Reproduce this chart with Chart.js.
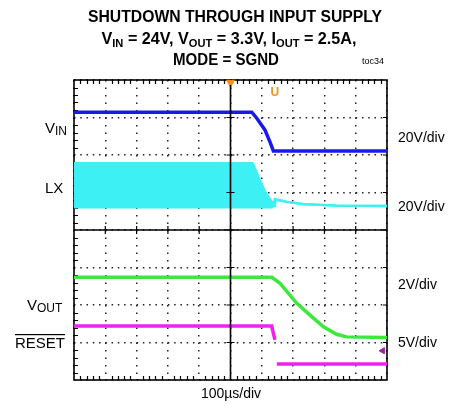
<!DOCTYPE html>
<html>
<head>
<meta charset="utf-8">
<script src="https://cdn.jsdelivr.net/npm/chart.js@4.4.0/dist/chart.umd.min.js"></script>
<style>
  html, body { margin: 0; padding: 0; background: #fff; }
  #wrap { width: 449px; height: 409px; }
</style>
</head>
<body>
<div id="wrap"><canvas id="scope" width="449" height="409"></canvas></div>
<script>
// scope screen: 10 divisions across (100us/div), 8 divisions high
const vinX = [0, 5.68, 5.84, 6.10, 6.26, 6.37, 10];
const vinY = [7.14, 7.14, 6.98, 6.67, 6.35, 6.11, 6.11];

// LX is switching fast, so it shows as a filled band until shutdown
const lxX = [0, 5.71, 5.89, 6.10, 6.32, 6.39, 6.42, 6.80, 7.33, 7.86, 8.39, 10];
const lxTopY = [5.78, 5.78, 5.42, 5.02, 4.75, 4.71, 4.82, 4.75, 4.69, 4.67, 4.65, 4.64];
const lxBotY = [4.61, 4.61, 4.61, 4.61, 4.61, 4.65, 4.82, 4.75, 4.69, 4.67, 4.65, 4.64];

const voutX = [0, 6.32, 6.58, 7.11, 7.54, 7.97, 8.39, 8.71, 10];
const voutY = [2.74, 2.74, 2.58, 2.05, 1.73, 1.42, 1.22, 1.15, 1.13];

const resetX = [0, 6.32, 6.33, 6.42, 6.45, 6.48, 10];
const resetY = [1.44, 1.44, 1.38, 1.07, null, 0.43, 0.43];

const trigX = [5];
const trigY = [7.93];
const refMarkX = [9.86];
const refMarkY = [0.78];
const uMarkX = 6.42, uMarkY = 7.66;

const leftLabels = [
  { main: 'V', sub: 'IN', y: 133, x: 45 },
  { main: 'LX', sub: '', y: 193, x: 45 },
  { main: 'V', sub: 'OUT', y: 310, x: 27 },
  { main: 'RESET', sub: '', y: 348, x: 15, bar: true }
];
const rightLabels = [
  { text: '20V/div', y: 142 },
  { text: '20V/div', y: 211 },
  { text: '2V/div', y: 289 },
  { text: '5V/div', y: 347 }
];

function pts(xs, ys) {
  return xs.map((x, i) => ({ x: x, y: ys[i] }));
}

const FONT = '"Liberation Sans", Arial, sans-serif';

function runsWidth(ctx, runs) {
  let w = 0;
  runs.forEach(r => { ctx.font = r.font; w += ctx.measureText(r.t).width; });
  return w;
}

function drawRuns(ctx, runs, x, y, align, fitW) {
  const w = runsWidth(ctx, runs);
  ctx.save();
  ctx.translate(x, y);
  if (fitW) ctx.scale(fitW / w, 1);
  let cx = align === 'center' ? -w / 2 : 0;
  ctx.textAlign = 'left';
  runs.forEach(r => {
    ctx.font = r.font;
    ctx.fillText(r.t, cx, r.dy || 0);
    cx += ctx.measureText(r.t).width;
  });
  ctx.restore();
  return fitW || w;
}

const scopeFrame = {
  id: 'scopeFrame',
  beforeDatasetsDraw(chart) {
    const { ctx, chartArea: a, scales } = chart;
    const xs = scales.x, ys = scales.y;
    ctx.save();
    ctx.strokeStyle = '#000';
    ctx.lineWidth = 1.2;
    ctx.beginPath();
    for (let i = 1; i < 50; i++) {
      if (i % 5 === 0) continue;
      const px = Math.round(xs.getPixelForValue(i / 5)) + 0.5;
      ctx.moveTo(px, a.top); ctx.lineTo(px, a.top + 4);
      ctx.moveTo(px, a.bottom); ctx.lineTo(px, a.bottom - 4);
    }
    for (let i = 1; i < 40; i++) {
      if (i % 5 === 0) continue;
      const py = Math.round(ys.getPixelForValue(i / 5)) + 0.5;
      ctx.moveTo(a.left, py); ctx.lineTo(a.left + 4, py);
    }
    for (let i = 1; i < 8; i++) {
      const py = ys.getPixelForValue(i);
      ctx.moveTo(a.right, py); ctx.lineTo(a.right - 4, py);
    }
    ctx.stroke();
    ctx.lineWidth = 1.6;
    ctx.strokeRect(a.left, a.top, a.right - a.left, a.bottom - a.top);
    ctx.restore();
  },
  afterDatasetsDraw(chart) {
    const { ctx, chartArea: a, scales } = chart;
    const xs = scales.x, ys = scales.y;
    ctx.save();
    ctx.strokeStyle = '#000';
    ctx.lineWidth = 1.6;
    const cx = xs.getPixelForValue(5), cy = ys.getPixelForValue(4);
    ctx.beginPath();
    ctx.moveTo(cx, a.top + 5); ctx.lineTo(cx, a.bottom);
    ctx.moveTo(a.left, cy); ctx.lineTo(a.right, cy);
    ctx.stroke();
    ctx.lineWidth = 1.2;
    ctx.beginPath();
    for (let i = 1; i < 10; i++) {
      const px = xs.getPixelForValue(i);
      ctx.moveTo(px, cy - 4); ctx.lineTo(px, cy + 4);
    }
    for (let i = 1; i < 8; i++) {
      const py = ys.getPixelForValue(i);
      ctx.moveTo(cx - 4, py); ctx.lineTo(cx + 4, py);
    }
    ctx.stroke();

    // trigger level marker
    ctx.fillStyle = '#f39020';
    ctx.font = 'bold 12px ' + FONT;
    ctx.textAlign = 'center';
    ctx.textBaseline = 'middle';
    ctx.fillText('U', xs.getPixelForValue(uMarkX), ys.getPixelForValue(uMarkY));
    ctx.restore();
  },
  afterDraw(chart) {
    const ctx = chart.ctx;
    ctx.save();
    ctx.fillStyle = '#000';
    ctx.textBaseline = 'alphabetic';
    const B = 'bold 16px ' + FONT, S = 'bold 11px ' + FONT;
    drawRuns(ctx, [{ t: 'SHUTDOWN THROUGH INPUT SUPPLY', font: B }], 235, 22, 'center', 294);
    drawRuns(ctx, [
      { t: 'V', font: B }, { t: 'IN', font: S, dy: 3 },
      { t: ' = 24V, V', font: B }, { t: 'OUT', font: S, dy: 3 },
      { t: ' = 3.3V, I', font: B }, { t: 'OUT', font: S, dy: 3 },
      { t: ' = 2.5A,', font: B }
    ], 229, 44, 'center', 255);
    drawRuns(ctx, [{ t: 'MODE = SGND', font: B }], 226, 65, 'center', 106);
    drawRuns(ctx, [{ t: 'toc34', font: '9px ' + FONT }], 362, 64, 'left');

    leftLabels.forEach(l => {
      const runs = [{ t: l.main, font: '15px ' + FONT }];
      if (l.sub) runs.push({ t: l.sub, font: '12px ' + FONT, dy: 2 });
      const w = drawRuns(ctx, runs, l.x, l.y, 'left');
      if (l.bar) {
        ctx.fillRect(l.x, l.y - 14, w, 1.2);
      }
    });
    rightLabels.forEach(l => {
      drawRuns(ctx, [{ t: l.text, font: '14px ' + FONT }], 398, l.y, 'left');
    });
    drawRuns(ctx, [{ t: '100\u00b5s/div', font: '14px ' + FONT }], 231, 398, 'center');
    ctx.restore();
  }
};

const lineDs = (label, data, color, width) => ({
  label: label, data: data, borderColor: color, backgroundColor: color,
  borderWidth: width, pointRadius: 0, tension: 0, fill: false, spanGaps: false
});

const lxTop = lineDs('LX', pts(lxX, lxTopY), '#3cf0f4', 2.5);
lxTop.fill = '+1';
const lxBot = lineDs('LX low', pts(lxX, lxBotY), '#3cf0f4', 2.5);

new Chart(document.getElementById('scope'), {
  type: 'line',
  data: {
    datasets: [
      {
        label: 'trigger', data: pts(trigX, trigY), showLine: false,
        pointStyle: 'triangle', rotation: 180, pointRadius: 4.5,
        pointBackgroundColor: '#f39020', pointBorderColor: '#f39020', clip: false
      },
      {
        label: 'ref', data: pts(refMarkX, refMarkY), showLine: false,
        pointStyle: 'triangle', rotation: 270, pointRadius: 3.5,
        pointBackgroundColor: '#a020a0', pointBorderColor: '#a020a0', clip: false
      },
      lineDs('VIN', pts(vinX, vinY), '#1a1ae8', 3.5),
      lineDs('VOUT', pts(voutX, voutY), '#3ce83c', 3.5),
      lineDs('RESET', pts(resetX, resetY), '#ee22ee', 3.5),
      lxTop,
      lxBot
    ]
  },
  options: {
    responsive: false,
    animation: false,
    events: [],
    layout: { padding: { left: 74, right: 62, top: 80, bottom: 29 } },
    plugins: { legend: { display: false }, tooltip: { enabled: false }, title: { display: false } },
    scales: {
      x: {
        type: 'linear', min: 0, max: 10,
        ticks: { display: false, stepSize: 1 },
        border: { display: false, dash: [1.5, 6] },
        grid: { drawTicks: false, color: '#222', lineWidth: 1.5, tickLength: 0 },
        title: { display: false }
      },
      y: {
        type: 'linear', min: 0, max: 8,
        ticks: { display: false, stepSize: 1 },
        border: { display: false, dash: [1.5, 4.76] },
        grid: { drawTicks: false, color: '#222', lineWidth: 1.5, tickLength: 0 },
        title: { display: false }
      }
    }
  },
  plugins: [scopeFrame]
});
</script>
</body>
</html>
